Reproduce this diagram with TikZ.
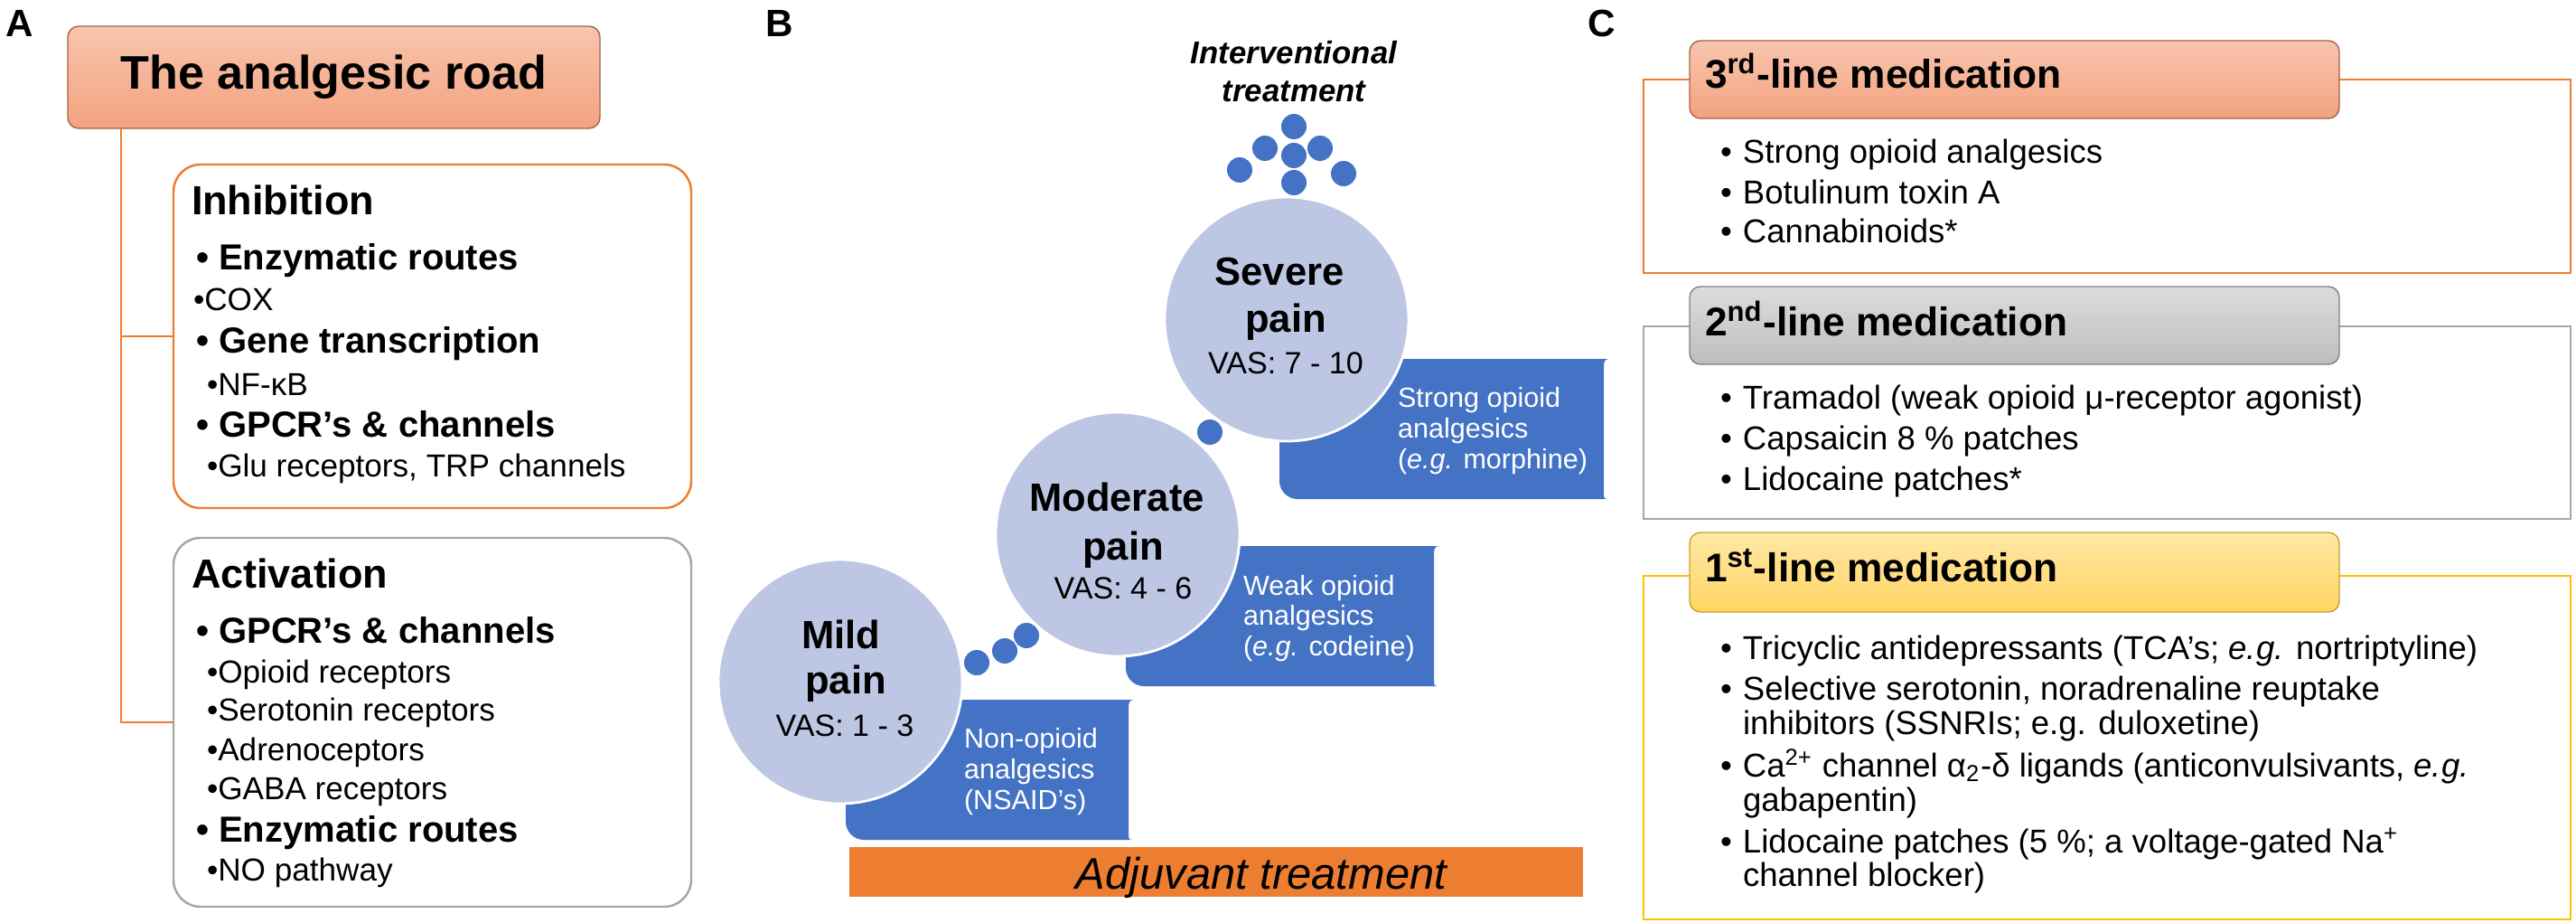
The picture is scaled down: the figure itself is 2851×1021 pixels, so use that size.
\documentclass[tikz,border=0pt]{standalone}
\usepackage{fontspec}
\setmainfont{Liberation Sans}
\usetikzlibrary{positioning}
\definecolor{roadorange}{HTML}{ED7D31}
\definecolor{roadgrey}{HTML}{A6A6A6}
\definecolor{painblue}{HTML}{4472C4}
\definecolor{paincircle}{HTML}{BDC7E3}
\definecolor{salmontop}{HTML}{F8C5AE}
\definecolor{salmonbot}{HTML}{F3A27F}
\definecolor{salmonline}{HTML}{A8624A}
\definecolor{greytop}{HTML}{DCDCDC}
\definecolor{greybot}{HTML}{BEBEBE}
\definecolor{greyline}{HTML}{808080}
\definecolor{goldtop}{HTML}{FFE8A6}
\definecolor{goldbot}{HTML}{FFD563}
\definecolor{goldline}{HTML}{C9A227}
\definecolor{goldframe}{HTML}{FFC000}
\newcommand\ptsize[1]{\fontsize{#1}{#1}\selectfont}
\newcommand\medbullet{\makebox[2.5mm][l]{•}}
% blue flag behind a pain circle: x0, y0, x1, y1
\newcommand\drugflag[4]{
  \fill[painblue] (#1,#2) -- ({#3+6},#2) .. controls (#3,#2) and (#3,{#2+4}) .. (#3,{#2+12})
    -- (#3,{#4-8}) .. controls (#3,{#4-2}) and (#3,#4) .. ({#3+4},#4)
    -- ({#1+20},#4) .. controls ({#1+9},#4) and (#1,{#4-9}) .. (#1,{#4-20}) -- cycle;
}

\begin{document}
\begin{tikzpicture}[x=0.1mm, y=-0.1mm,
    every node/.style={inner sep=0pt, outer sep=0pt},
    panelletter/.style={anchor=base west, font=\ptsize{12}\bfseries},
    roadline/.style={draw=roadorange, line width=0.7pt},
    topbox/.style={draw=salmonline, line width=0.4pt, rounded corners=1.2mm, top color=salmontop, bottom color=salmonbot},
    routebox/.style={draw=#1, line width=0.7pt, fill=white, rounded corners=3mm, minimum width=57.3mm},
    headrow/.style={anchor=base west, font=\ptsize{12.8}\bfseries},
    boldrow/.style={anchor=base west, font=\ptsize{11.4}\bfseries},
    subrow/.style={anchor=base west, font=\ptsize{10}},
    painball/.style={circle, fill=paincircle, draw=white, line width=0.8pt, minimum size=27mm},
    painname/.style={anchor=base, font=\ptsize{12.4}\bfseries},
    painvas/.style={anchor=base, font=\ptsize{9.7}},
    drugtext/.style={anchor=base west, text=white, font=\ptsize{8.7}},
    pilldot/.style={fill=painblue},
    medframe/.style={draw=#1, line width=0.45pt, minimum width=102.6mm},
    medhead/.style={draw=#1, line width=0.4pt, rounded corners=1.2mm, minimum width=71.9mm, minimum height=8.6mm},
    medtitle/.style={anchor=base west, font=\ptsize{12.6}\bfseries},
    meditem/.style={anchor=base west, font=\ptsize{10.4}}]
\useasboundingbox (0,0) rectangle (2851,1021);

% A: the analgesic road
\node[panelletter] (labelA) at (7,40) {A};
\node[topbox, minimum width=58.9mm, minimum height=11.3mm, font=\ptsize{14.8}\bfseries] (road) at (369.5,85.5) {The analgesic road};
\coordinate (trunk) at (134,142);
\node[routebox=roadorange, minimum height=38mm] (inh) at (478.5,372) {};
\node[routebox=roadgrey, minimum height=40.8mm] (act) at (478.5,799) {};
\draw[roadline] (trunk) |- (inh.west);
\draw[roadline] (trunk) |- (act.west);

\node[headrow] (inhhead) at (212,237) {Inhibition};
\node[boldrow] (inhenz) at (217,298) {• Enzymatic routes};
\node[subrow] (inhcox) at (214,343) {•COX};
\node[boldrow] (inhgene) at (217,390) {• Gene transcription};
\node[subrow] (inhnfkb) at (229,437) {•NF-κB};
\node[boldrow] (inhgpcr) at (217,483) {• GPCR’s \& channels};
\node[subrow] (inhglu) at (229,527) {•Glu receptors, TRP channels};

\node[headrow] (acthead) at (212,650) {Activation};
\node[boldrow] (actgpcr) at (217,711) {• GPCR’s \& channels};
\foreach \rowy/\rowtext [count=\k] in {755/Opioid receptors, 797/Serotonin receptors, 841/Adrenoceptors, 884/GABA receptors}
  \node[subrow] (actsub\k) at (229,\rowy) {•\rowtext};
\node[boldrow] (actenz) at (217,931) {• Enzymatic routes};
\node[subrow] (actno) at (229,974) {•NO pathway};

% B: pain ladder
\node[panelletter] (labelB) at (847,40) {B};
\node[anchor=base, font=\ptsize{9.9}\bfseries\itshape] (interv1) at (1432,70) {Interventional};
\node[anchor=base, font=\ptsize{9.9}\bfseries\itshape] (interv2) at (1432,112) {treatment};
\foreach \dx/\dy in {1432/140, 1400/164, 1461/164, 1432/172, 1372/188, 1487/192, 1432/202}
  \fill[pilldot] (\dx,\dy) circle (14);

\drugflag{936}{774}{1249}{929}
\drugflag{1246}{604}{1587}{759}
\drugflag{1416}{397}{1775}{552}

\node[painball] (mild) at (930,754) {};
\node[painball] (moderate) at (1237,591) {};
\node[painball] (severe) at (1424,353) {};
\foreach \dx/\dy in {1081/733, 1112/720, 1136/703, 1339/478}
  \fill[pilldot] (\dx,\dy) circle (14);

\node[painname] (mildname) at (931,717) {Mild};
\node[painname] (mildpain) at (936,767) {pain};
\node[painvas] (mildvas) at (935,814) {VAS: 1 - 3};
\node[painname] (modname) at (1236,565) {Moderate};
\node[painname] (modpain) at (1243,619) {pain};
\node[painvas] (modvas) at (1243,662) {VAS: 4 - 6};
\node[painname] (sevname) at (1416,315) {Severe};
\node[painname] (sevpain) at (1423,367) {pain};
\node[painvas] (sevvas) at (1423,413) {VAS: 7 - 10};

\node[drugtext] (nonop1) at (1067,827) {Non-opioid};
\node[drugtext] (nonop2) at (1067,861) {analgesics};
\node[drugtext] (nonop3) at (1067,895) {(NSAID’s)};
\node[drugtext] (weak1) at (1376,658) {Weak opioid};
\node[drugtext] (weak2) at (1376,691) {analgesics};
\node[drugtext] (weak3) at (1376,725) {(\textit{e.g.} codeine)};
\node[drugtext] (strong1) at (1547,450) {Strong opioid};
\node[drugtext] (strong2) at (1547,484) {analgesics};
\node[drugtext] (strong3) at (1547,518) {(\textit{e.g.} morphine)};

\node[fill=roadorange, minimum width=81.2mm, minimum height=5.5mm] (adjuvant) at (1346,964.5) {};
\node[anchor=base, font=\ptsize{13.9}\itshape] (adjtext) at (1396,983) {Adjuvant treatment};

% C: medication lines
\node[panelletter] (labelC) at (1757,40) {C};
\node[medframe=roadorange, minimum height=21.4mm] (third) at (2332,195) {};
\node[medframe=roadgrey, minimum height=21.3mm] (second) at (2332,467.5) {};
\node[medframe=goldframe, minimum height=38mm] (first) at (2332,827) {};
\node[medhead=salmonline, top color=salmontop, bottom color=salmonbot] (thirdhead) at (2229.5,88) {};
\node[medhead=greyline, top color=greytop, bottom color=greybot] (secondhead) at (2229.5,360) {};
\node[medhead=goldline, top color=goldtop, bottom color=goldbot, minimum height=8.8mm] (firsthead) at (2229.5,633) {};
\node[medtitle] (thirdtitle) at (1887,97) {3\textsuperscript{rd}-line medication};
\node[medtitle] (secondtitle) at (1887,371) {2\textsuperscript{nd}-line medication};
\node[medtitle] (firsttitle) at (1887,643) {1\textsuperscript{st}-line medication};

\node[meditem] (third1) at (1904,180) {\medbullet Strong opioid analgesics};
\node[meditem] (third2) at (1904,225) {\medbullet Botulinum toxin A};
\node[meditem] (third3) at (1904,268) {\medbullet Cannabinoids*};
\node[meditem] (second1) at (1904,452) {\medbullet Tramadol (weak opioid μ-receptor agonist)};
\node[meditem] (second2) at (1904,497) {\medbullet Capsaicin 8 \% patches};
\node[meditem] (second3) at (1904,542) {\medbullet Lidocaine patches*};
\node[meditem] (first1) at (1904,729) {\medbullet Tricyclic antidepressants (TCA’s; \textit{e.g.} nortriptyline)};
\node[meditem] (first2) at (1904,774) {\medbullet Selective serotonin, noradrenaline reuptake};
\node[meditem] (first2b) at (1929,812) {inhibitors (SSNRIs; e.g. duloxetine)};
\node[meditem] (first3) at (1904,859) {\medbullet Ca\textsuperscript{2+} channel α\textsubscript{2}-δ ligands (anticonvulsivants, \textit{e.g.}};
\node[meditem] (first3b) at (1929,897) {gabapentin)};
\node[meditem] (first4) at (1904,943) {\medbullet Lidocaine patches (5 \%; a voltage-gated Na\textsuperscript{+}};
\node[meditem] (first4b) at (1929,980) {channel blocker)};
\end{tikzpicture}
\end{document}
